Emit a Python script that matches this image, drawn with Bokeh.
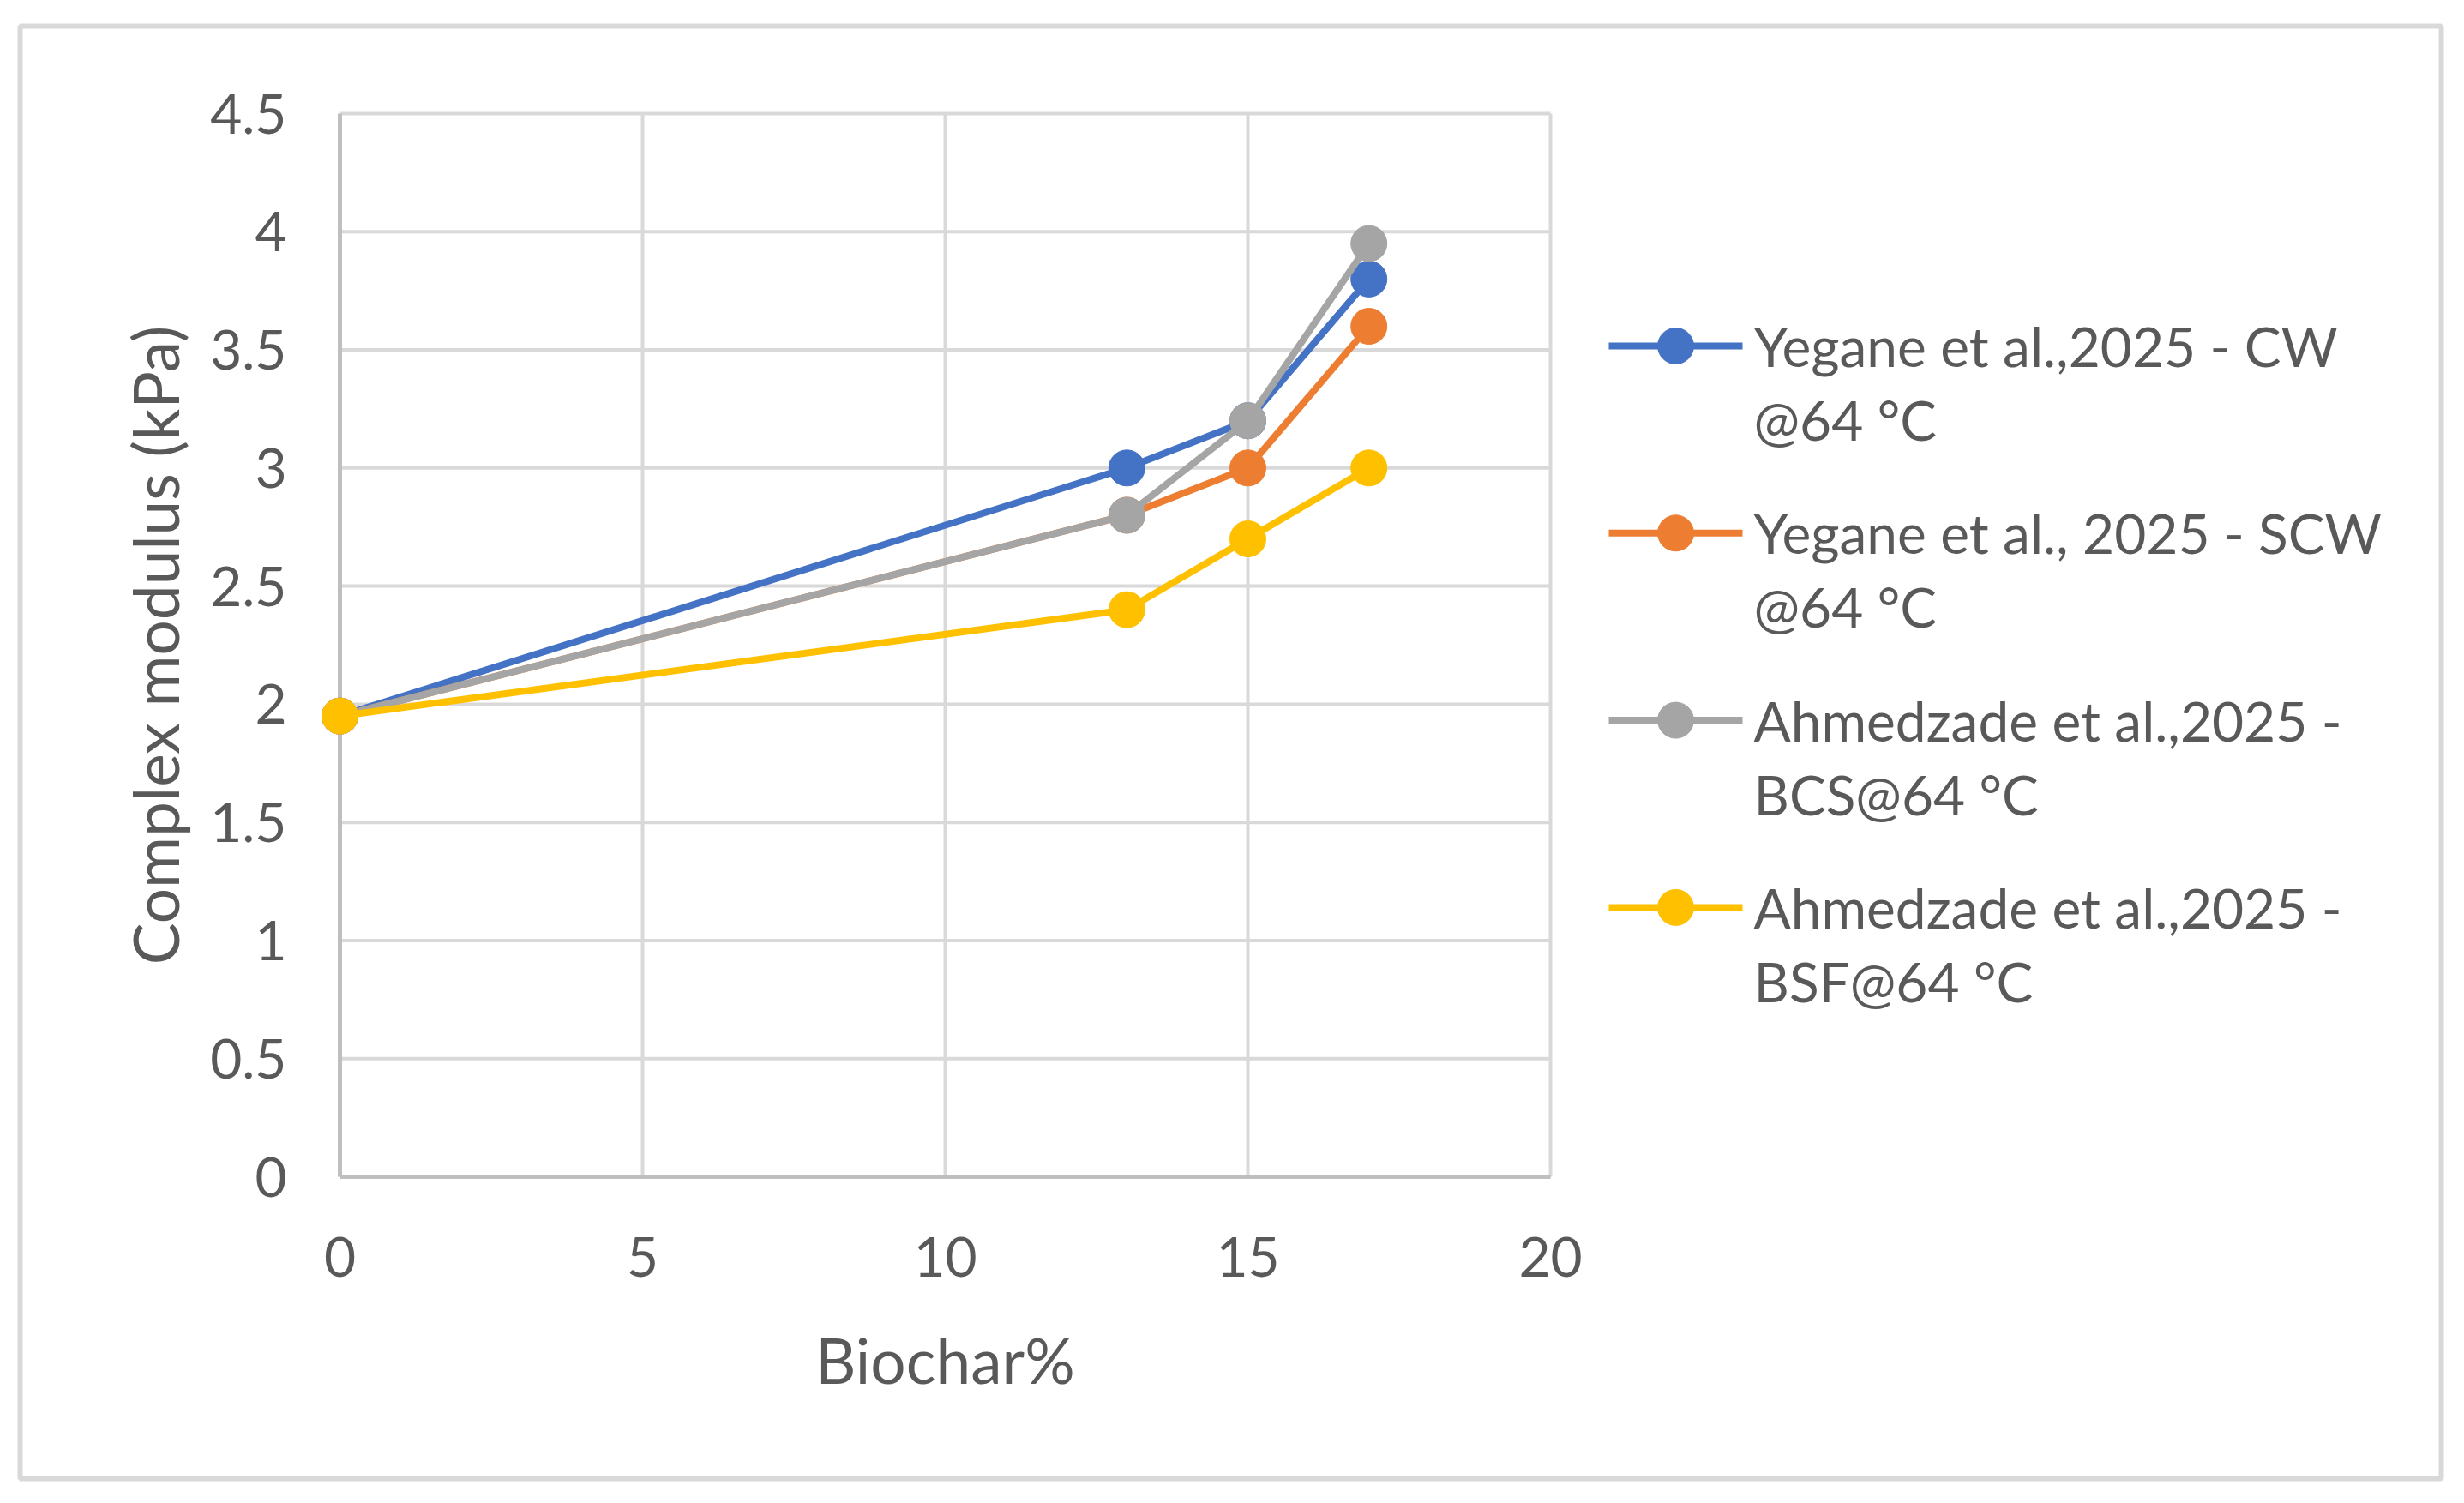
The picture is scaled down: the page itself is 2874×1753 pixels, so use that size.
from bokeh.plotting import figure
from bokeh.models import Range1d, FixedTicker
from bokeh.embed import file_html
from bokeh.resources import INLINE
from bokeh.core.properties import value

# ---------------- data ----------------
biochar = [0, 13, 15, 17]
cw_64 = [1.95, 3.0, 3.2, 3.8]
scw_64 = [1.95, 2.8, 3.0, 3.6]
bcs_64 = [1.95, 2.8, 3.2, 3.95]
bsf_64 = [1.95, 2.4, 2.7, 3.0]
series_values = [cw_64, scw_64, bcs_64, bsf_64]
series_line1 = ["Yegane et al.,2025 - CW", "Yegane et al., 2025 - SCW",
                "Ahmedzade et al.,2025 -", "Ahmedzade et al.,2025 -"]
series_line2 = ["@64 °C", "@64 °C", "BCS@64 °C", "BSF@64 °C"]
colors = ["#4472C4", "#ED7D31", "#A5A5A5", "#FFC000"]
x_ticks = [0, 5, 10, 15, 20]
x_tick_labels = ["0", "5", "10", "15", "20"]
y_ticks = [0, 0.5, 1, 1.5, 2, 2.5, 3, 3.5, 4, 4.5]
y_tick_labels = ["0", "0.5", "1", "1.5", "2", "2.5", "3", "3.5", "4", "4.5"]
x_title = "Biochar%"
y_title = "Complex modulus (kPa)"

# ---------------- layout (page pixels) ----------------
OFF = 0
W, H = 2858, 1737
FL, FR, FT, FB = 23, 2847, 30, 1724          # outer chart box
X0PX, XEPX = 396, 1808                        # plot area left / right
Y0PX, YEPX = 1372, 132                        # plot area bottom / top
FONT = "Lato"
FS = "64px"
FS_TITLE = "73px"
TXT = "#595959"

xmin, xmax = x_ticks[0], x_ticks[-1]
ymin, ymax = y_ticks[0], y_ticks[-1]
sx = (XEPX - X0PX) / (xmax - xmin)
sy = (Y0PX - YEPX) / (ymax - ymin)
x_start = xmin - (X0PX - FL) / sx
x_end = xmin + (FR - X0PX) / sx
y_start = ymin - (FB - Y0PX) / sy
y_end = ymin + (Y0PX - FT) / sy


def px_x(px):
    return xmin + (px - X0PX) / sx


def px_y(py):
    return ymin + (Y0PX - py) / sy


p = figure(width=W, height=H, x_range=Range1d(x_start, x_end),
           y_range=Range1d(y_start, y_end), output_backend="svg",
           toolbar_location=None,
           min_border_left=FL - OFF, min_border_right=OFF + W - FR,
           min_border_top=FT - OFF, min_border_bottom=OFF + H - FB)
p.xgrid.visible = False
p.ygrid.visible = False
p.background_fill_color = "white"
p.border_fill_color = "white"
p.outline_line_color = "#D9D9D9"
p.outline_line_width = 6

# gridlines
p.segment(x0=x_ticks, y0=[ymin] * len(x_ticks), x1=x_ticks, y1=[ymax] * len(x_ticks),
          line_color="#D9D9D9", line_width=4)
p.segment(x0=[xmin] * len(y_ticks), y0=y_ticks, x1=[xmax] * len(y_ticks), y1=y_ticks,
          line_color="#D9D9D9", line_width=4)
# axis lines
p.segment(x0=[xmin, xmin], y0=[ymin, ymin], x1=[xmin, xmax], y1=[ymax, ymin],
          line_color="#BFBFBF", line_width=5)

# axes (labels only)
for ax in (p.xaxis[0], p.yaxis[0]):
    ax.axis_line_color = None
    ax.major_tick_line_color = None
    ax.minor_tick_line_color = None
    ax.major_tick_in = 0
    ax.major_tick_out = 0
    ax.major_label_text_font = FONT
    ax.major_label_text_font_size = FS
    ax.major_label_text_color = TXT
    ax.axis_label_text_font = FONT
    ax.axis_label_text_font_size = FS_TITLE
    ax.axis_label_text_color = TXT
    ax.axis_label_text_font_style = "normal"

xa = p.xaxis[0]
xa.fixed_location = ymin
xa.bounds = (xmin, xmax)
xa.ticker = FixedTicker(ticks=x_ticks)
xa.major_label_overrides = {t: l for t, l in zip(x_ticks, x_tick_labels)}
xa.major_label_standoff = 70
xa.axis_label = x_title
xa.axis_label_standoff = 50

ya = p.yaxis[0]
ya.fixed_location = xmin
ya.bounds = (ymin, ymax)
ya.ticker = FixedTicker(ticks=y_ticks)
ya.major_label_overrides = {t: l for t, l in zip(y_ticks, y_tick_labels)}
ya.major_label_standoff = 62
ya.axis_label = y_title
ya.axis_label_standoff = 17

# series
for vals, c in zip(series_values, colors):
    p.line(biochar, vals, line_color=c, line_width=8)
    p.scatter(biochar, vals, size=42, fill_color=c, line_color=c, marker="circle")

# legend (manual, two-line labels)
LG_X0, LG_X1, LG_MK, LG_TX = 1876, 2032, 1954, 2045
LG_Y0, LG_DY, LG_LH = 403, 218.3, 86
for i, (c, l1, l2) in enumerate(zip(colors, series_line1, series_line2)):
    yc = LG_Y0 + i * LG_DY
    p.segment(x0=[px_x(LG_X0)], y0=[px_y(yc)], x1=[px_x(LG_X1)], y1=[px_y(yc)],
              line_color=c, line_width=8)
    p.scatter([px_x(LG_MK)], [px_y(yc)], size=42, fill_color=c, line_color=c)
    p.text(x=[px_x(LG_TX), px_x(LG_TX)], y=[px_y(yc), px_y(yc + LG_LH)], text=[l1, l2],
           text_font=value(FONT), text_font_size=value(FS), text_color=TXT,
           text_align="left", text_baseline="middle")

open("out.html", "w").write(file_html(p, INLINE))
